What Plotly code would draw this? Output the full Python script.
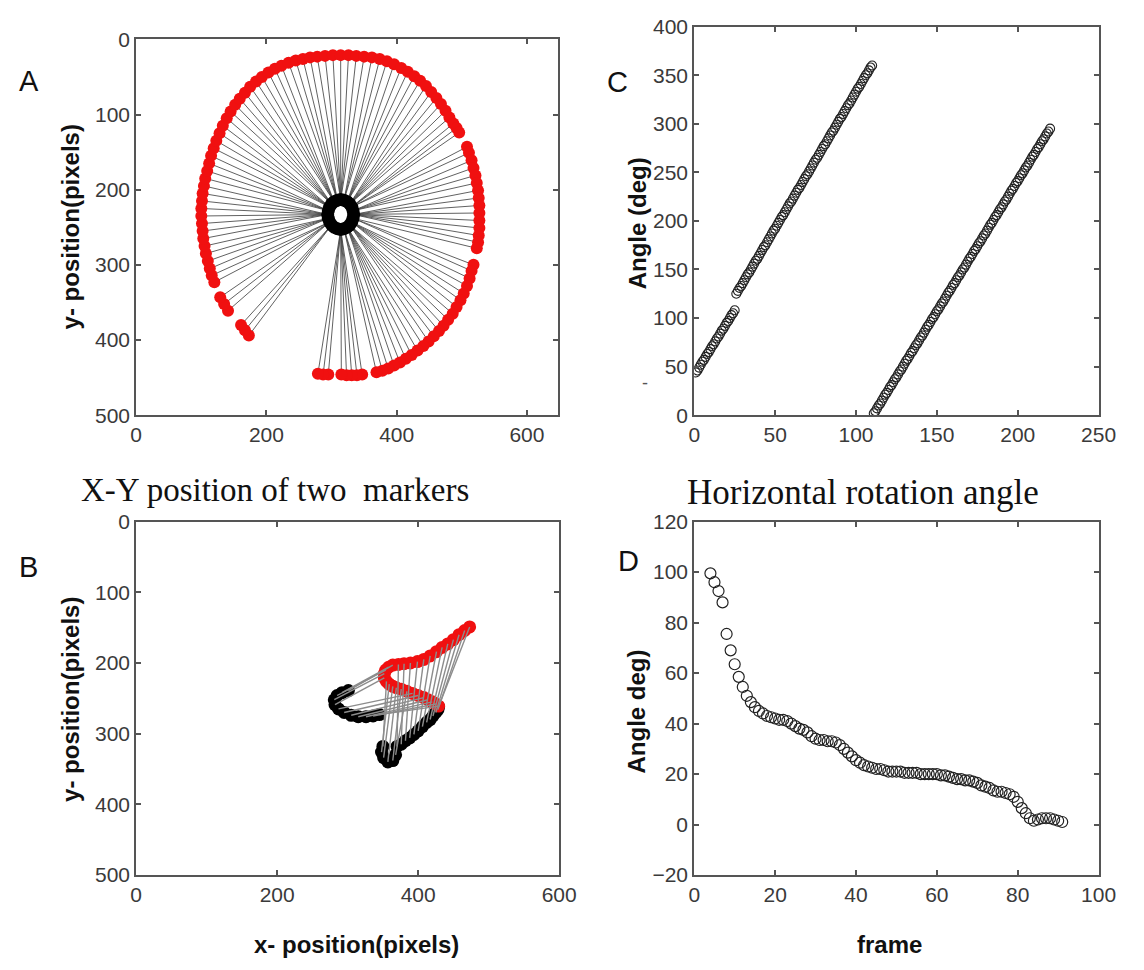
import plotly.graph_objects as go
import numpy as np

W, H = 1144, 970

# ---------------- Panel A: red marker path and black (centre) marker ring ----------------
a_red_x = [173, 167, 161,
           141, 135, 129,
           120, 116, 113, 110, 107, 105, 103, 102, 101, 100, 100, 101, 102, 104, 106, 109, 112, 115, 119,
           123, 128, 133, 139, 145, 152, 159, 167, 175, 184, 193, 203, 213, 223, 234, 245, 256, 267, 278,
           290, 302, 314, 326, 338, 350, 362, 374, 385, 396, 407, 417, 427, 436, 445, 453, 461, 468, 475,
           481, 487, 492, 496,
           508, 511, 515, 518, 521, 523, 525, 526, 527, 527, 527, 527, 526, 525, 523,
           518, 515, 512, 508, 503, 498, 492, 486, 479, 472, 465, 457, 449, 441, 432, 423, 414, 405, 396,
           387, 378, 369,
           347, 339, 331, 323, 315,
           295, 287, 279]
a_red_y = [394, 387, 380,
           361, 352, 343,
           323, 314, 305, 295, 285, 275, 265, 255, 245, 235, 225, 215, 205, 195, 185, 175, 165, 155, 145,
           135, 125, 115, 105, 96, 87, 79, 71, 63, 56, 50, 44, 39, 35, 31, 28, 26, 24, 23,
           22, 21, 21, 21, 22, 23, 24, 26, 29, 33, 38, 43, 49, 55, 62, 70, 78, 86, 95,
           104, 112, 118, 124,
           143, 151, 161, 171, 181, 191, 201, 211, 221, 231, 241, 251, 261, 270, 278,
           300, 308, 318, 328, 338, 347, 356, 365, 373, 381, 388, 395, 402, 408, 414, 420, 425, 430, 434,
           438, 441, 443,
           446, 447, 447, 447, 446,
           446, 446, 445]
a_blk_x = [334, 333, 331, 328, 324, 319, 314, 309, 304, 300, 297, 295,
           294, 295, 297, 300, 304, 309, 314, 319, 324, 328, 331, 333]
a_blk_y = [233, 238, 243, 247, 250, 252, 253, 252, 250, 247, 243, 238,
           233, 228, 223, 219, 216, 214, 213, 214, 216, 219, 223, 228]

# ---------------- Panel B: two markers, frame by frame ----------------
b_red_x = [473, 466, 458, 450, 442, 434, 426, 417, 408, 399, 389, 380, 372,
           364, 358, 354, 352, 352,
           355, 359, 364, 369, 376, 384,
           392, 400, 408, 414, 420, 425, 429]
b_red_y = [149, 154, 160, 167, 173, 178, 184, 190, 195, 198, 200, 201, 202,
           203, 206, 210, 215, 221,
           226, 230, 233, 235, 237, 240,
           243, 246, 249, 252, 255, 258, 261]
b_blk_x = [429, 428, 425, 421, 417, 412, 406, 400, 394, 388, 382, 376, 370,
           301, 292, 285, 281, 282,
           350, 348, 351, 357, 364, 368,
           287, 295, 305, 315, 326, 336, 345]
b_blk_y = [262, 266, 270, 275, 280, 284, 290, 296, 301, 306, 310, 315, 318,
           239, 242, 246, 252, 259,
           318, 326, 334, 340, 338, 330,
           265, 270, 274, 276, 276, 275, 273]

# ---------------- Panel C: angle vs frame ----------------
c_frames = list(range(1, 221))
c_angle = [44, 46, 49, 52, 55, 57, 60, 63, 65, 68, 71, 73, 76, 79, 81, 84, 87, 89, 92, 95,
           97, 100, 103, 105, 108,
           125, 128, 131, 133, 136, 139, 142, 145, 147, 150, 153, 156, 159, 161, 164, 167, 170,
           173, 175, 178, 181, 184, 187, 190, 192, 195, 198, 201, 204, 206, 209, 212, 215, 218,
           220, 223, 226, 229, 232, 234, 237, 240, 243, 246, 248, 251, 254, 257, 260, 263, 265,
           268, 271, 274, 277, 279, 282, 285, 288, 291, 293, 296, 299, 302, 305, 307, 310, 313,
           316, 319, 321, 324, 327, 330, 333, 336, 338, 341, 344, 347, 350, 352, 355, 358, 360,
           2, 4, 7, 10, 12, 15, 18, 21, 23, 26, 29, 31, 34, 37, 39, 42, 45, 47, 50, 53, 56, 58,
           61, 64, 66, 69, 72, 74, 77, 80, 82, 85, 88, 91, 93, 96, 99, 101, 104, 107, 109, 112,
           115, 117, 120, 123, 126, 128, 131, 134, 136, 139, 142, 144, 147, 150, 152, 155, 158,
           161, 163, 166, 169, 171, 174, 177, 179, 182, 185, 187, 190, 193, 196, 198, 201, 204,
           206, 209, 212, 214, 217, 220, 222, 225, 228, 231, 233, 236, 239, 241, 244, 247, 249,
           252, 255, 257, 260, 263, 266, 268, 271, 274, 276, 279, 282, 284, 287, 290, 292, 295]

# ---------------- Panel D: angle vs frame ----------------
d_frames = list(range(4, 92))
d_angle = [99.5, 96, 92.5, 88, 75.5, 69, 63.5, 58.5, 54.5, 51, 48.5, 46.5, 45, 44, 43, 42.5,
           42, 41.5, 41.5, 41, 40, 39, 38, 37.5, 36.5, 35, 34, 33.5, 33.5, 33, 33, 32.5, 31.5,
           30, 28.5, 27, 25.5, 24.5, 23.5, 23, 22.5, 22, 22, 21.5, 21, 21, 21, 21, 20.5, 20.5,
           20.5, 20.5, 20, 20, 20, 20, 20, 19.5, 19.5, 19, 18.5, 18, 18, 17.5, 17.5, 17, 16.5,
           15.5, 15, 14.5, 13.5, 13, 13, 12.5, 12, 11, 9, 6.5, 4.5, 2.5, 1.5, 2, 2.5, 2.5, 2.5,
           2, 1.5, 1]

# ---------------- build figure ----------------
fig = go.Figure()

# A: spokes from each red point to nearest point of black ring
bx = np.array(a_blk_x, float)
by = np.array(a_blk_y, float)
sx, sy = [], []
for x, y in zip(a_red_x, a_red_y):
    j = int(np.argmin((bx - x) ** 2 + (by - y) ** 2))
    sx += [x, a_blk_x[j], None]
    sy += [y, a_blk_y[j], None]
fig.add_trace(go.Scatter(x=sx, y=sy, mode="lines", line=dict(color="#444444", width=0.85),
                         xaxis="x", yaxis="y", hoverinfo="skip"))
fig.add_trace(go.Scatter(x=a_red_x, y=a_red_y, mode="markers",
                         marker=dict(color="#f01010", size=12, line=dict(width=0)),
                         xaxis="x", yaxis="y"))
fig.add_trace(go.Scatter(x=a_blk_x, y=a_blk_y, mode="markers",
                         marker=dict(color="black", size=13, line=dict(width=0)),
                         xaxis="x", yaxis="y"))

# B: markers first, connecting lines drawn over them
lx, ly = [], []
for x1, y1, x2, y2 in zip(b_red_x, b_red_y, b_blk_x, b_blk_y):
    lx += [x1, x2, None]
    ly += [y1, y2, None]
fig.add_trace(go.Scatter(x=b_blk_x, y=b_blk_y, mode="markers",
                         marker=dict(color="black", size=13, line=dict(width=0)),
                         xaxis="x3", yaxis="y3"))
fig.add_trace(go.Scatter(x=b_red_x, y=b_red_y, mode="markers",
                         marker=dict(color="#f01010", size=13, line=dict(width=0)),
                         xaxis="x3", yaxis="y3"))
fig.add_trace(go.Scatter(x=lx, y=ly, mode="lines", line=dict(color="#8c8c8c", width=1.4),
                         xaxis="x3", yaxis="y3", hoverinfo="skip"))

# C
fig.add_trace(go.Scatter(x=c_frames, y=c_angle, mode="markers",
                         marker=dict(symbol="circle-open", color="#222", size=9, line=dict(width=1.1)),
                         xaxis="x2", yaxis="y2"))
# D
fig.add_trace(go.Scatter(x=d_frames, y=d_angle, mode="markers",
                         marker=dict(symbol="circle-open", color="#222", size=11, line=dict(width=1.2)),
                         xaxis="x4", yaxis="y4"))

tickfont = dict(family="Liberation Sans, Arial, sans-serif", size=21, color="#3a3a3a")
common = dict(showline=True, linecolor="#555", linewidth=2, mirror="ticks", ticks="inside",
              ticklen=5, tickwidth=1.5, tickcolor="#555", showgrid=False, zeroline=False,
              tickfont=tickfont)


def dx(p0, p1):
    return [p0 / W, p1 / W]


def dy(top, bottom):
    return [1 - bottom / H, 1 - top / H]


fig.update_layout(
    width=W, height=H, margin=dict(l=0, r=0, t=0, b=0),
    paper_bgcolor="white", plot_bgcolor="white", showlegend=False,
    xaxis=dict(domain=dx(133, 564), range=[0, 648], tickvals=[0, 200, 400, 600], anchor="y", **common),
    yaxis=dict(domain=dy(28, 413), range=[500, 0], tickvals=[0, 100, 200, 300, 400, 500], anchor="x", **common),
    xaxis2=dict(domain=dx(703, 1116), range=[0, 250], tickvals=[0, 50, 100, 150, 200, 250], anchor="y2", **common),
    yaxis2=dict(domain=dy(15, 413), range=[0, 400], tickvals=list(range(0, 401, 50)), anchor="x2", **common),
    xaxis3=dict(domain=dx(133, 565), range=[0, 600], tickvals=[0, 200, 400, 600], anchor="y3", **common),
    yaxis3=dict(domain=dy(522, 884), range=[500, 0], tickvals=[0, 100, 200, 300, 400, 500], anchor="x3", **common),
    xaxis4=dict(domain=dx(703, 1116), range=[0, 100], tickvals=[0, 20, 40, 60, 80, 100], anchor="y4", **common),
    yaxis4=dict(domain=dy(522, 884), range=[-20, 120], tickvals=list(range(-20, 121, 20)), anchor="x4", **common),
)

sans = "Liberation Sans, Arial, sans-serif"
serif = "Liberation Serif, Times New Roman, serif"
ann = []


def add(text, px, py, size, family=sans, angle=0, color="#111"):
    ann.append(dict(text=text, x=px / W, y=1 - py / H, xref="paper", yref="paper",
                    xanchor="center", yanchor="middle", showarrow=False, textangle=angle,
                    font=dict(family=family, size=size, color=color)))


add("A", 24, 71, 29)
add("C", 625, 72, 29)
add("B", 23, 568, 29)
add("D", 636, 562, 29)
add("X-Y position of two  markers", 275, 490, 33, family=serif)
add("Horizontal rotation angle", 875, 492, 35, family=serif)
add("<b>y- position(pixels)</b>", 66, 220, 24, angle=-90)
add("<b>y- position(pixels)</b>", 66, 704, 24, angle=-90)
add("<b>Angle (deg)</b>", 645, 216, 24, angle=-90)
add("<b>Angle deg)</b>", 644, 716, 24, angle=-90)
add("<b>x- position(pixels)</b>", 358, 955, 24)
add("<b>frame</b>", 902, 955, 24)
add("-", 653, 380, 18, color="#555")
fig.update_layout(annotations=ann)

fig.write_html("out.html")
